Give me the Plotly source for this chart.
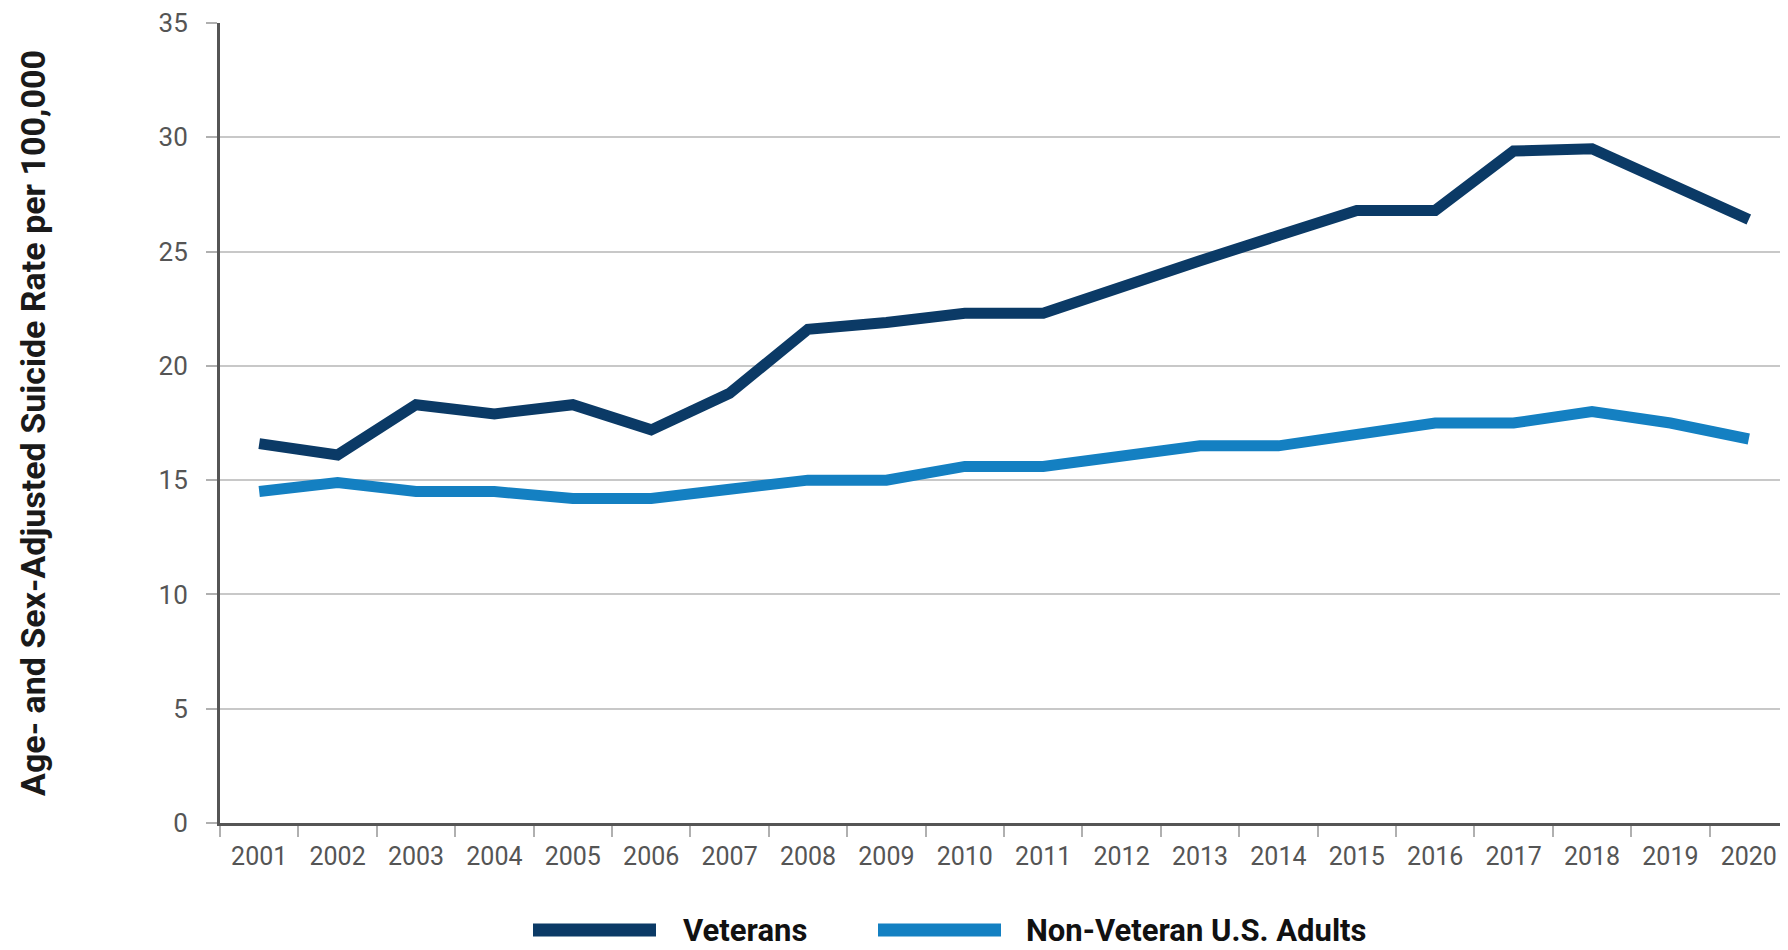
import plotly.graph_objects as go

years = [str(y) for y in range(2001, 2021)]
veterans = [16.6, 16.1, 18.3, 17.9, 18.3, 17.2, 18.8, 21.6, 21.9, 22.3,
            22.3, 23.5, 24.6, 25.7, 26.8, 26.8, 29.4, 29.5, 27.9, 26.4]
non_veterans = [14.5, 14.9, 14.5, 14.5, 14.2, 14.2, 14.6, 15.0, 15.0, 15.6,
                15.6, 16.1, 16.5, 16.5, 17.0, 17.5, 17.5, 18.0, 17.5, 16.8]
series_names = ["Veterans", "Non-Veteran U.S. Adults"]
series_colors = ["#0B3A66", "#1480C2"]
y_ticks = [0, 5, 10, 15, 20, 25, 30, 35]
y_title = "Age- and Sex-Adjusted Suicide Rate per 100,000"

FONT = "Roboto, Liberation Sans, sans-serif"

# page body has an 8px margin, so the figure is sized to fill the rest
W, H = 1780, 942
L, T, B = 212, 15, 127
PW, PH = W - L, H - T - B

fig = go.Figure()
for name, vals, col in zip(series_names, [veterans, non_veterans], series_colors):
    fig.add_trace(go.Scatter(
        x=years, y=vals, mode="lines", name=name,
        line=dict(color=col, width=11), showlegend=False,
    ))

fig.update_layout(
    width=W, height=H,
    margin=dict(l=L, r=0, t=T, b=B),
    paper_bgcolor="white", plot_bgcolor="white",
    font=dict(family=FONT, color="#555555", size=25),
    xaxis=dict(
        type="category", range=[-0.5, 19.5],
        tickson="boundaries", ticks="outside", ticklen=11, tickwidth=1.5,
        tickcolor="#b0b0b0",
        showline=True, linecolor="#555555", linewidth=3,
        showgrid=False, ticklabelstandoff=9,
        tickfont=dict(family=FONT, size=25, color="#555555"),
    ),
    yaxis=dict(
        range=[0, 35], tickvals=y_ticks,
        ticks="outside", ticklen=11, tickwidth=1.5, tickcolor="#b0b0b0",
        showline=True, linecolor="#555555", linewidth=3,
        showgrid=True, gridcolor="#c8c8c8", gridwidth=2,
        zeroline=False, ticklabelstandoff=13,
        tickfont=dict(family=FONT, size=26, color="#555555"),
        title=dict(text="<b>" + y_title + "</b>", standoff=103,
                   font=dict(family=FONT, size=34, color="#1a1a1a")),
    ),
)

# Legend drawn below the plot (long line swatches as in the reference)
legend_y = -(922 - (H - B)) / PH
legend_items = [
    (series_names[0], series_colors[0], 525, 648, 673),
    (series_names[1], series_colors[1], 870, 993, 1016),
]
for name, col, x0, x1, xt in legend_items:
    fig.add_shape(type="line", xref="paper", yref="paper",
                  x0=(x0 - L) / PW, x1=(x1 - L) / PW,
                  y0=legend_y, y1=legend_y,
                  line=dict(color=col, width=13))
    fig.add_annotation(xref="paper", yref="paper",
                       x=(xt - L) / PW, y=legend_y,
                       xanchor="left", yanchor="middle", showarrow=False,
                       text="<b>" + name + "</b>",
                       font=dict(family=FONT, size=31, color="#111111"))

fig.write_html("out.html")
